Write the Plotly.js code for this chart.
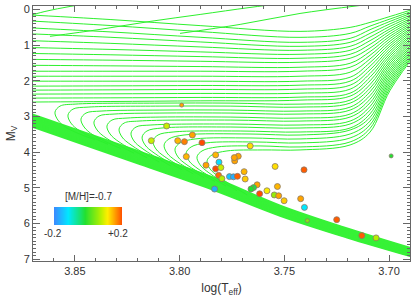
<!DOCTYPE html>
<html><head><meta charset="utf-8">
<script src="https://cdn.plot.ly/plotly-3.0.1.min.js"></script>
<style>html,body{margin:0;padding:0;background:#fff}#c{width:415px;height:297px}</style>
</head><body><div id="c"></div>
<script>
// Main-sequence band lines (logTeff columns, Mv rows)
const msTeff = [3.876, 3.870, 3.819, 3.784, 3.752, 3.720, 3.684];
const msMv = [
 [3.18, 3.29, 4.33, 5.05, 5.78, 6.39, 7.01],
 [3.15, 3.26, 4.30, 5.02, 5.75, 6.37, 6.99],
 [3.11, 3.23, 4.27, 4.99, 5.73, 6.34, 6.97],
 [3.08, 3.20, 4.24, 4.96, 5.70, 6.32, 6.95],
 [3.05, 3.17, 4.21, 4.93, 5.68, 6.30, 6.93],
 [3.02, 3.14, 4.18, 4.90, 5.65, 6.28, 6.91],
 [2.98, 3.11, 4.15, 4.87, 5.63, 6.25, 6.89],
 [2.95, 3.07, 4.11, 4.83, 5.60, 6.23, 6.87],
 [2.92, 3.04, 4.08, 4.80, 5.58, 6.21, 6.85],
 [2.89, 3.01, 4.05, 4.77, 5.55, 6.19, 6.83],
 [2.85, 2.98, 4.02, 4.74, 5.53, 6.16, 6.81],
 [2.82, 2.95, 3.99, 4.71, 5.50, 6.14, 6.79]
];
// Young isochrones: subgiant + giant branches (turn-off beyond the left edge)
const youngTeff = [3.8762, 3.8332, 3.7902, 3.7425, 3.7186, 3.7091, 3.6995, 3.6842];
const youngMv = [
 [0.137, 0.279, 0.450, 0.612, 0.500, 0.360, 0.193, -0.087],
 [0.304, 0.447, 0.617, 0.779, 0.668, 0.464, 0.263, -0.050],
 [0.500, 0.626, 0.777, 0.919, 0.807, 0.564, 0.330, -0.014],
 [0.668, 0.777, 0.908, 1.031, 0.919, 0.668, 0.399, 0.022],
 [0.863, 0.947, 1.047, 1.142, 1.031, 0.771, 0.469, 0.059],
 [1.059, 1.117, 1.187, 1.254, 1.142, 0.872, 0.539, 0.095],
 [1.226, 1.268, 1.318, 1.366, 1.254, 0.975, 0.606, 0.131],
 [1.394, 1.419, 1.450, 1.478, 1.366, 1.078, 0.676, 0.168],
 [1.561, 1.578, 1.598, 1.617, 1.506, 1.179, 0.746, 0.204],
 [1.729, 1.729, 1.729, 1.729, 1.617, 1.282, 0.813, 0.240],
 [1.869, 1.869, 1.869, 1.869, 1.757, 1.385, 0.883, 0.277],
 [2.008, 2.008, 2.008, 2.008, 1.897, 1.486, 0.953, 0.313],
 [2.148, 2.140, 2.129, 2.120, 2.008, 1.589, 1.020, 0.349],
 [2.260, 2.251, 2.240, 2.232, 2.120, 1.693, 1.089, 0.385],
 [2.371, 2.363, 2.352, 2.344, 2.232, 1.793, 1.159, 0.422],
 [2.483, 2.475, 2.464, 2.455, 2.344, 1.897, 1.229, 0.458],
 [2.595, 2.578, 2.559, 2.539, 2.427, 2.000, 1.296, 0.494]
];
// Old isochrones: turn-off hook + subgiant + giant branches
const oldTeff = [
 [3.8404, 3.8538, 3.8581, 3.8595, 3.8571, 3.8499, 3.8094, 3.7759, 3.7425, 3.7186, 3.7091, 3.6995, 3.6842],
 [3.8342, 3.8476, 3.8519, 3.8533, 3.8509, 3.8437, 3.8094, 3.7759, 3.7425, 3.7186, 3.7091, 3.6995, 3.6842],
 [3.8280, 3.8413, 3.8456, 3.8471, 3.8447, 3.8375, 3.8094, 3.7759, 3.7425, 3.7186, 3.7091, 3.6995, 3.6842],
 [3.8218, 3.8351, 3.8394, 3.8409, 3.8385, 3.8313, 3.8094, 3.7759, 3.7425, 3.7186, 3.7091, 3.6995, 3.6842],
 [3.8156, 3.8289, 3.8332, 3.8347, 3.8323, 3.8251, 3.8094, 3.7759, 3.7425, 3.7186, 3.7091, 3.6995, 3.6842],
 [3.8098, 3.8232, 3.8275, 3.8289, 3.8265, 3.8194, 3.7759, 3.7425, 3.7186, 3.7091, 3.6995, 3.6842],
 [3.8041, 3.8175, 3.8218, 3.8232, 3.8208, 3.8137, 3.7759, 3.7425, 3.7186, 3.7091, 3.6995, 3.6842],
 [3.7988, 3.8122, 3.8165, 3.8179, 3.8156, 3.8084, 3.7759, 3.7425, 3.7186, 3.7091, 3.6995, 3.6842],
 [3.7936, 3.8070, 3.8113, 3.8127, 3.8103, 3.8031, 3.7711, 3.7425, 3.7186, 3.7091, 3.6995, 3.6842],
 [3.7883, 3.8017, 3.8060, 3.8074, 3.8051, 3.7979, 3.7664, 3.7425, 3.7186, 3.7091, 3.6995, 3.6842],
 [3.7831, 3.7965, 3.8008, 3.8022, 3.7998, 3.7926, 3.7664, 3.7425, 3.7186, 3.7091, 3.6995, 3.6842],
 [3.7778, 3.7912, 3.7955, 3.7969, 3.7945, 3.7874, 3.7640, 3.7425, 3.7186, 3.7091, 3.6995, 3.6842],
 [3.7726, 3.7860, 3.7902, 3.7917, 3.7893, 3.7821, 3.7616, 3.7425, 3.7186, 3.7091, 3.6995, 3.6842],
 [3.7678, 3.7812, 3.7855, 3.7869, 3.7845, 3.7774, 3.7606, 3.7425, 3.7186, 3.7091, 3.6995, 3.6842]
];
const oldMv = [
 [3.651, 3.321, 3.098, 2.874, 2.707, 2.651, 2.623, 2.623, 2.651, 2.539, 2.103, 1.366, 0.531],
 [3.777, 3.405, 3.182, 2.958, 2.791, 2.735, 2.707, 2.707, 2.735, 2.623, 2.207, 1.436, 0.567],
 [3.899, 3.517, 3.293, 3.070, 2.902, 2.846, 2.818, 2.818, 2.846, 2.735, 2.307, 1.503, 0.603],
 [4.025, 3.601, 3.377, 3.154, 2.986, 2.930, 2.902, 2.902, 2.930, 2.818, 2.411, 1.573, 0.640],
 [4.154, 3.712, 3.489, 3.266, 3.098, 3.042, 3.014, 3.014, 3.042, 2.930, 2.514, 1.643, 0.676],
 [4.271, 3.796, 3.573, 3.349, 3.182, 3.126, 3.098, 3.126, 3.014, 2.615, 1.710, 0.712],
 [4.388, 3.908, 3.684, 3.461, 3.293, 3.237, 3.209, 3.237, 3.126, 2.718, 1.779, 0.749],
 [4.494, 4.020, 3.796, 3.573, 3.405, 3.321, 3.293, 3.321, 3.209, 2.821, 1.849, 0.785],
 [4.603, 4.131, 3.908, 3.684, 3.517, 3.433, 3.405, 3.433, 3.321, 2.925, 1.919, 0.821],
 [4.712, 4.243, 4.020, 3.796, 3.628, 3.517, 3.489, 3.517, 3.377, 3.025, 1.986, 0.858],
 [4.821, 4.355, 4.131, 3.908, 3.740, 3.628, 3.600, 3.628, 3.489, 3.128, 2.056, 0.894],
 [4.950, 4.466, 4.243, 4.020, 3.852, 3.740, 3.712, 3.740, 3.600, 3.232, 2.126, 0.930],
 [5.078, 4.578, 4.355, 4.131, 3.964, 3.852, 3.824, 3.852, 3.712, 3.333, 2.193, 0.966],
 [5.196, 4.690, 4.466, 4.243, 4.075, 3.964, 3.936, 3.936, 3.796, 3.436, 2.263, 1.003]
];
// Bright crossing tracks near the top
const loopTeff = [
 [3.8762, 3.8643, 3.8523, 3.8404],
 [3.8619, 3.8380, 3.8141, 3.7902, 3.7664, 3.7473],
 [3.7998, 3.7711, 3.7425, 3.7138]
];
const loopMv = [
 [0.249, 0.053, -0.087, -0.198],
 [0.751, 0.556, 0.332, 0.137, -0.059, -0.198],
 [0.668, 0.416, 0.109, -0.115]
];
// Stars
const starTeff = [3.7990, 3.8062, 3.8135, 3.7939, 3.8009, 3.7977, 3.7893, 3.7968, 3.7828, 3.7663,
 3.7874, 3.7812, 3.7828, 3.7803, 3.7814, 3.7798, 3.7762, 3.7743, 3.7724, 3.7737,
 3.7720, 3.7739, 3.7692, 3.7687, 3.7833, 3.7544, 3.7630, 3.7647, 3.7659, 3.7618,
 3.7583, 3.7548, 3.7533, 3.7527, 3.7501, 3.7406, 3.7422, 3.7404, 3.7390, 3.7250,
 3.7130, 3.7062, 3.6990];
const starMv = [2.679, 3.265, 3.676, 3.517, 3.676, 3.704, 3.732, 4.123, 4.075, 3.824,
 4.363, 4.279, 4.466, 4.430, 4.648, 4.740, 4.684, 4.690, 4.676, 4.243,
 4.112, 4.151, 4.545, 4.751, 5.034, 4.399, 4.913, 4.992, 5.031, 5.165,
 5.081, 5.198, 4.961, 5.221, 5.360, 4.494, 5.304, 5.547, 5.919, 5.891,
 6.338, 6.402, 4.103];
const starFeH = [0.15, 0.08, 0.08, 0.15, 0.14, 0.17, 0.20, 0.14, 0.14, 0.12,
 0.15, -0.13, 0.20, 0.08, 0.18, 0.07, -0.15, -0.17, 0.19, 0.15,
 0.15, 0.15, 0.14, 0.13, -0.17, 0.12, 0.15, -0.03, -0.02, 0.20,
 0.11, 0.05, 0.14, 0.15, 0.13, 0.19, 0.15, -0.12, 0.04, 0.19,
 0.19, 0.07, -0.02];
const starSize = [4, 6, 6, 6, 6, 6, 6, 6, 6, 6,
 6, 6, 6, 6, 6, 6, 6, 6, 6, 6,
 6, 6, 6, 6, 6, 6, 6, 6, 6, 6,
 6, 6, 6, 6, 6, 6, 6, 6, 4, 6,
 6, 6, 4];
// Colour bar levels
const barLevels = [-0.2, -0.15, -0.1, -0.05, 0, 0.05, 0.1, 0.15, 0.2];

const scale = [[0,'#3a8cff'],[0.2,'#00e8ff'],[0.45,'#22e030'],[0.68,'#b8f000'],[0.78,'#ffee00'],[0.88,'#ffa000'],[1,'#ff4a00']];
const green = 'rgb(45,240,45)';
const bandGreen = 'rgb(55,242,55)';
const traces = [];
const lineOf = (x, y, w, c) => ({x: x, y: y, type: 'scatter', mode: 'lines', hoverinfo: 'skip',
  line: {color: c, width: w, shape: 'spline', smoothing: 1}});
msMv.forEach(r => traces.push(lineOf(msTeff, r, 2.2, bandGreen)));
youngMv.forEach(r => traces.push(lineOf(youngTeff, r, 1, green)));
oldMv.forEach((r, i) => traces.push(lineOf(oldTeff[i], r, 1, green)));
loopMv.forEach((r, i) => traces.push(lineOf(loopTeff[i], r, 1, green)));
traces.push({x: starTeff, y: starMv, type: 'scatter', mode: 'markers', hoverinfo: 'skip',
  marker: {color: starFeH, cmin: -0.2, cmax: 0.2, colorscale: scale, size: starSize, opacity: 1,
           line: {color: '#8a7a6a', width: 0.8}}});
traces.push({type: 'heatmap', x: barLevels, y: [0], z: [barLevels], xaxis: 'x2', yaxis: 'y2',
  colorscale: scale, zmin: -0.2, zmax: 0.2, zsmooth: 'best', showscale: false, hoverinfo: 'skip'});

const axCol = '#666';
const layout = {
  width: 415, height: 297, margin: {l: 33, r: 5, t: 6, b: 36},
  paper_bgcolor: '#fff', plot_bgcolor: '#fff', showlegend: false,
  font: {family: 'Liberation Sans, Arial, sans-serif', size: 11, color: '#333'},
  xaxis: {range: [3.87, 3.69], tick0: 3.70, dtick: 0.05, tickformat: '.2f', ticks: 'inside', ticklen: 6,
    tickcolor: axCol, mirror: 'allticks', showline: true, linecolor: axCol, linewidth: 1,
    showgrid: false, zeroline: false,
    minor: {dtick: 0.01, tick0: 3.70, ticks: 'inside', ticklen: 3, tickcolor: axCol, showgrid: false},
    title: {text: 'log(T<sub>eff</sub>)', font: {size: 12}, standoff: 9}},
  yaxis: {range: [7.05, -0.1], tick0: 0, dtick: 1, ticks: 'inside', ticklen: 7,
    tickcolor: axCol, mirror: 'allticks', showline: true, linecolor: axCol, linewidth: 1,
    showgrid: false, zeroline: false,
    minor: {dtick: 0.1, ticks: 'inside', ticklen: 3, tickcolor: axCol, showgrid: false},
    title: {text: 'M<sub>V</sub>', font: {size: 12}, standoff: 5}},
  xaxis2: {domain: [0.0557, 0.2361], anchor: 'y2', range: [-0.2, 0.2], visible: false},
  yaxis2: {domain: [0.1412, 0.2118], anchor: 'x2', range: [-0.5, 0.5], visible: false},
  annotations: [
    {xref: 'paper', yref: 'paper', x: 0.1485, y: 0.251, xanchor: 'center', yanchor: 'middle', text: '[M/H]=-0.7', showarrow: false, font: {size: 10}},
    {xref: 'paper', yref: 'paper', x: 0.053, y: 0.108, xanchor: 'center', yanchor: 'middle', text: '-0.2', showarrow: false, font: {size: 10}},
    {xref: 'paper', yref: 'paper', x: 0.2255, y: 0.108, xanchor: 'center', yanchor: 'middle', text: '+0.2', showarrow: false, font: {size: 10}}
  ]
};
Plotly.newPlot('c', traces, layout, {displayModeBar: false, staticPlot: true});
</script></body></html>
